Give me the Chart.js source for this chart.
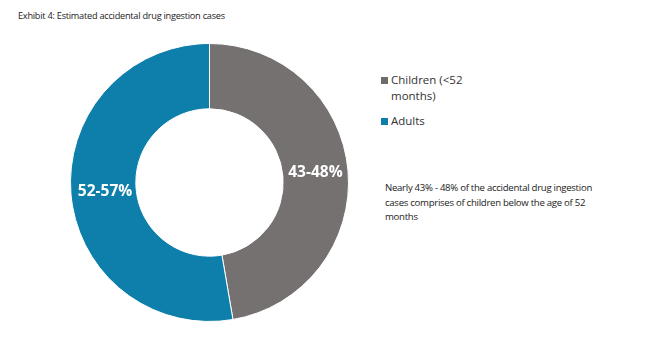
<!DOCTYPE html>
<html>
<head>
<meta charset="utf-8">
<script src="https://cdn.jsdelivr.net/npm/chart.js@4"></script>
<style>
  html, body { margin: 0; padding: 0; background: #fff; }
  body { width: 650px; height: 355px; position: relative; overflow: hidden; font-family: "Open Sans", "Noto Sans", sans-serif; color: #222; }
  #title { position: absolute; left: 18px; top: 9px; font-size: 9.2px; letter-spacing: -0.25px; }
  #wrap { position: absolute; left: 70px; top: 43px; width: 279px; height: 279px; }
  .leg { position: absolute; left: 381px; font-size: 11.5px; line-height: 16px; color: #333; }
  .sw { position: absolute; left: 0; top: 5px; width: 7px; height: 7px; }
  .leg span.t { display: block; padding-left: 10px; }
  #note { position: absolute; left: 385px; top: 181px; white-space: nowrap; font-size: 9.6px; letter-spacing: -0.28px; line-height: 14.5px; color: #222; }
</style>
</head>
<body>
<div id="title">Exhibit 4: Estimated accidental drug ingestion cases</div>
<div id="wrap"><canvas id="c"></canvas></div>
<div class="leg" id="leg0" style="top:72px;"><div class="sw" style="background:#6f6b6b"></div><span class="t">Children (&lt;52<br>months)</span></div>
<div class="leg" id="leg1" style="top:113px;"><div class="sw" style="background:#0e7fab"></div><span class="t">Adults</span></div>
<div id="note">Nearly 43% - 48% of the accidental drug ingestion<br>cases comprises of children below the age of 52<br>months</div>
<script>
const categories = ["Children (<52 months)", "Adults"];
const values = [47.3, 52.7];
const sliceLabels = ["43-48%", "52-57%"];
const colors = ["#767171", "#0e7fab"];

const labelPlugin = {
  id: 'sliceLabels',
  afterDatasetsDraw(chart) {
    const ctx = chart.ctx;
    const meta = chart.getDatasetMeta(0);
    ctx.save();
    ctx.fillStyle = '#fff';
    ctx.font = 'bold 15.5px "Open Sans", sans-serif';
    ctx.textAlign = 'center';
    ctx.textBaseline = 'middle';
    meta.data.forEach((arc, i) => {
      const cx = arc.x, cy = arc.y;
      const mid = (arc.startAngle + arc.endAngle) / 2;
      const r = (arc.innerRadius + arc.outerRadius) / 2;
      const x = cx + Math.cos(mid) * r;
      const y = cy + Math.sin(mid) * r;
      ctx.fillText(sliceLabels[i], x + (i === 1 ? 1.5 : 0), y - (i === 0 ? 1 : 0));
    });
    ctx.restore();
  }
};

new Chart(document.getElementById('c'), {
  type: 'doughnut',
  data: {
    labels: categories,
    datasets: [{ data: values, backgroundColor: colors, borderColor: '#fff', borderWidth: 1 }]
  },
  options: {
    responsive: true,
    maintainAspectRatio: false,
    animation: false,
    cutout: '53%',
    layout: { padding: 0 },
    plugins: { legend: { display: false }, tooltip: { enabled: false } }
  },
  plugins: [labelPlugin]
});
</script>
</body>
</html>
